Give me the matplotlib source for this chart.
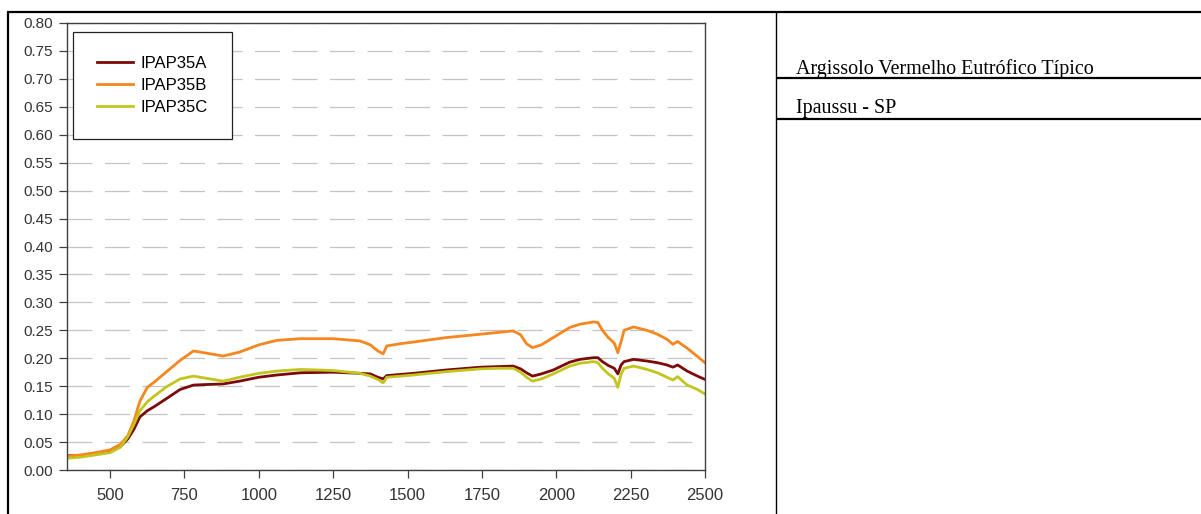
import matplotlib
matplotlib.use("Agg")
import matplotlib.pyplot as plt
from matplotlib.lines import Line2D

plt.rcParams['lines.scale_dashes'] = False

wavelength = [355, 400, 450, 500, 535, 560, 580, 600, 625, 650, 690, 735, 780, 825, 880, 935,
              1000, 1060, 1140, 1250, 1340, 1375, 1400, 1418, 1430, 1475, 1520, 1630, 1745, 1800,
              1855, 1880, 1900, 1920, 1950, 1990, 2045, 2080, 2125, 2140, 2155, 2175, 2195, 2207,
              2218, 2228, 2260, 2305, 2340, 2372, 2392, 2408, 2440, 2475, 2500]

ipap35a = [0.026, 0.025, 0.028, 0.033, 0.042, 0.056, 0.073, 0.095, 0.106, 0.114, 0.128, 0.144,
           0.152, 0.153, 0.154, 0.159, 0.166, 0.170, 0.174, 0.175, 0.173, 0.172, 0.166, 0.163,
           0.169, 0.171, 0.173, 0.179, 0.184, 0.185, 0.186, 0.181, 0.174, 0.168, 0.172, 0.179,
           0.193, 0.198, 0.201, 0.201, 0.194, 0.187, 0.182, 0.172, 0.188, 0.194, 0.198, 0.195,
           0.192, 0.188, 0.184, 0.188, 0.177, 0.168, 0.162]

ipap35b = [0.025, 0.027, 0.031, 0.036, 0.046, 0.062, 0.088, 0.123, 0.148, 0.158, 0.176, 0.196,
           0.213, 0.209, 0.204, 0.211, 0.224, 0.232, 0.235, 0.235, 0.231, 0.224, 0.213, 0.208,
           0.222, 0.226, 0.229, 0.237, 0.243, 0.246, 0.249, 0.242, 0.226, 0.219, 0.224, 0.237,
           0.255, 0.261, 0.265, 0.264, 0.250, 0.237, 0.227, 0.210, 0.230, 0.250, 0.256, 0.250,
           0.243, 0.234, 0.225, 0.230, 0.218, 0.203, 0.192]

ipap35c = [0.021, 0.023, 0.027, 0.031, 0.041, 0.060, 0.082, 0.106, 0.122, 0.133, 0.149, 0.163,
           0.168, 0.164, 0.159, 0.166, 0.173, 0.177, 0.180, 0.178, 0.173, 0.168, 0.162, 0.156,
           0.166, 0.168, 0.170, 0.176, 0.181, 0.182, 0.182, 0.175, 0.166, 0.159, 0.163, 0.172,
           0.186, 0.191, 0.194, 0.192, 0.182, 0.172, 0.164, 0.148, 0.172, 0.182, 0.186, 0.180,
           0.174, 0.166, 0.161, 0.167, 0.152, 0.144, 0.136]

series_names = ["IPAP35A", "IPAP35B", "IPAP35C"]
series_colors = ["#7c0a0a", "#f6861e", "#c2c61c"]
x_ticks = [500, 750, 1000, 1250, 1500, 1750, 2000, 2250, 2500]
y_ticks = [i * 0.05 for i in range(17)]
soil_name = "Argissolo Vermelho Eutrófico Típico"
location = "Ipaussu - SP"

W, H = 1201, 514
fig = plt.figure(figsize=(W / 100, H / 100), dpi=100)
fig.patch.set_facecolor("white")

ax = fig.add_axes([67 / W, 1 - 470 / H, (705 - 67) / W, (470 - 23) / H])
for name, vals, col in zip(series_names, [ipap35a, ipap35b, ipap35c], series_colors):
    ax.plot(wavelength, vals, color=col, lw=2.0, label=name, solid_joinstyle='round')

ax.set_xlim(355, 2500)
ax.set_ylim(0, 0.80)
ax.set_xticks(x_ticks)
ax.set_yticks(y_ticks)
ax.set_yticklabels([f"{v:.2f}" for v in y_ticks])
ax.grid(axis='y', color="#c4c4c4", lw=0.9, linestyle=(0, (18, 9)))
ax.set_axisbelow(True)
for s in ax.spines.values():
    s.set_color("#404040")
    s.set_linewidth(1.0)
ax.tick_params(axis='y', direction='out', length=6, width=0.9, color="#404040",
               labelsize=11, labelcolor="#333333", pad=4,
               labelfontfamily="Liberation Sans")
ax.tick_params(axis='x', direction='out', length=6, width=0.9, color="#404040",
               labelsize=12, labelcolor="#333333", pad=7,
               labelfontfamily="Liberation Sans")

leg = ax.legend(loc='upper left', bbox_to_anchor=((73 - 67) / 638, (470 - 32) / 447),
                borderaxespad=0, frameon=True, fancybox=False, shadow=False,
                prop={'family': 'Liberation Sans', 'size': 12},
                borderpad=1.45, labelspacing=0.42, handlelength=2.15, handletextpad=0.48,
                framealpha=1)
leg.get_frame().set_edgecolor("#222222")
leg.get_frame().set_linewidth(0.9)

# table lines
def fline(x0, y0, x1, y1, lw):
    fig.add_artist(Line2D([x0 / W, x1 / W], [1 - y0 / H, 1 - y1 / H], color="black", lw=lw,
                          transform=fig.transFigure, solid_capstyle='butt'))

fline(7.3, 12.3, W, 12.3, 1.6)
fline(8.3, 12.3, 8.3, H, 1.6)
fline(776, 12.3, 776, H, 1.0)
fline(776, 78.3, W, 78.3, 1.6)
fline(776, 119.2, W, 119.2, 1.6)

fig.text(796 / W, 1 - 74 / H, soil_name, family="Liberation Serif", fontsize=14.4,
         va='baseline', ha='left', color="black")
fig.text(796 / W, 1 - 112.5 / H, location, family="Liberation Serif", fontsize=14.4,
         va='baseline', ha='left', color="black")

fig.savefig("out.png", dpi=100, facecolor="white")
